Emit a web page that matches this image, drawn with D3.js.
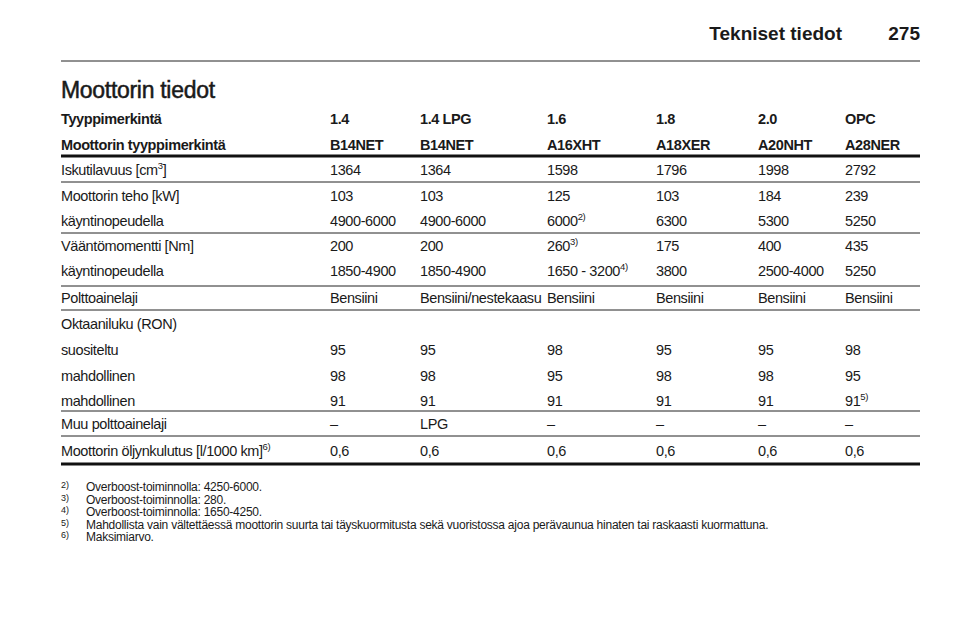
<!DOCTYPE html>
<html><head><meta charset="utf-8">
<script src="https://cdn.jsdelivr.net/npm/d3@7"></script>
<style>body{margin:0;background:#fff}text{font-family:"Liberation Sans",Arial,sans-serif;fill:#1a1a1a}</style>
</head><body><svg id="c" width="960" height="642"></svg>
<script>
const columnHeaders = ["Tyyppimerkintä","1.4","1.4 LPG","1.6","1.8","2.0","OPC"];
const engineCodes = ["Moottorin tyyppimerkintä","B14NET","B14NET","A16XHT","A18XER","A20NHT","A28NER"];
const rows = [
  [["Iskutilavuus [cm","3","]"],"1364","1364","1598","1796","1998","2792"],
  ["Moottorin teho [kW]","103","103","125","103","184","239"],
  ["käyntinopeudella","4900-6000","4900-6000",["6000","2)"],"6300","5300","5250"],
  ["Vääntömomentti [Nm]","200","200",["260","3)"],"175","400","435"],
  ["käyntinopeudella","1850-4900","1850-4900",["1650 - 3200","4)"],"3800","2500-4000","5250"],
  ["Polttoainelaji","Bensiini","Bensiini/nestekaasu","Bensiini","Bensiini","Bensiini","Bensiini"],
  ["Oktaaniluku (RON)","","","","","",""],
  ["suositeltu","95","95","98","95","95","98"],
  ["mahdollinen","98","98","95","98","98","95"],
  ["mahdollinen","91","91","91","91","91",["91","5)"]],
  ["Muu polttoainelaji","–","LPG","–","–","–","–"],
  [["Moottorin öljynkulutus [l/1000 km]","6)"],"0,6","0,6","0,6","0,6","0,6","0,6"]
];
const rowY = [170,196,221,246,271,298,324,350,376,401,424,451];
const separators = [182,233,286,310,411,436];
const footnotes = [["2)","Overboost-toiminnolla: 4250-6000."],["3)","Overboost-toiminnolla: 280."],["4)","Overboost-toiminnolla: 1650-4250."],["5)","Mahdollista vain vältettäessä moottorin suurta tai täyskuormitusta sekä vuoristossa ajoa perävaunua hinaten tai raskaasti kuormattuna."],["6)","Maksimiarvo."]];

const svg = d3.select("#c");
const x = d3.scaleOrdinal().domain(d3.range(7)).range([61,330,420,547,656,758,845]);
svg.append("text").attr("x",842).attr("y",40).attr("text-anchor","end").attr("font-size",19).attr("font-weight","bold").text("Tekniset tiedot");
svg.append("text").attr("x",920).attr("y",40).attr("text-anchor","end").attr("font-size",19).attr("font-weight","bold").text("275");
svg.append("line").attr("x1",61).attr("x2",920).attr("y1",61).attr("y2",61).attr("stroke","#222").attr("stroke-width",1);
svg.append("text").attr("x",61).attr("y",98).attr("font-size",23).attr("stroke","#1a1a1a").attr("stroke-width",0.5).attr("letter-spacing",-0.3).text("Moottorin tiedot");

function cell(sel, d){
  const parts = Array.isArray(d)? d : [d];
  sel.text(null);
  parts.forEach((p,i)=>{
    const t = sel.append("tspan").text(p);
    if(i===1){ t.attr("font-size",9.5).attr("dy",-6); }
    if(i===2){ t.attr("dy",6); }
  });
}
[[columnHeaders,124],[engineCodes,150]].forEach(([arr,y])=>{
  svg.append("g").selectAll("text").data(arr).join("text")
    .attr("x",(d,i)=>x(i)).attr("y",y).attr("font-size",14.5).attr("letter-spacing",-0.4).attr("font-weight","bold").text(d=>d);
});
svg.append("line").attr("x1",61).attr("x2",920).attr("y1",156).attr("y2",156).attr("stroke","#111").attr("stroke-width",3);
rows.forEach((r,ri)=>{
  svg.append("g").selectAll("text").data(r).join("text")
    .attr("x",(d,i)=>x(i)).attr("y",rowY[ri]+5).attr("font-size",14.5).attr("letter-spacing",-0.4)
    .each(function(d){cell(d3.select(this),d);});
});
svg.append("g").selectAll("line").data(separators).join("line")
  .attr("x1",61).attr("x2",920).attr("y1",d=>d).attr("y2",d=>d).attr("stroke","#222").attr("stroke-width",1);
svg.append("line").attr("x1",61).attr("x2",920).attr("y1",464).attr("y2",464).attr("stroke","#111").attr("stroke-width",3);
const fg = svg.append("g").selectAll("g").data(footnotes).join("g")
  .attr("transform",(d,i)=>`translate(0,${491+i*12.5})`);
fg.append("text").attr("x",61).attr("y",-3).attr("font-size",9).text(d=>d[0]);
fg.append("text").attr("x",86).attr("y",0).attr("font-size",12).attr("letter-spacing",-0.25).text(d=>d[1]);
</script></body></html>
